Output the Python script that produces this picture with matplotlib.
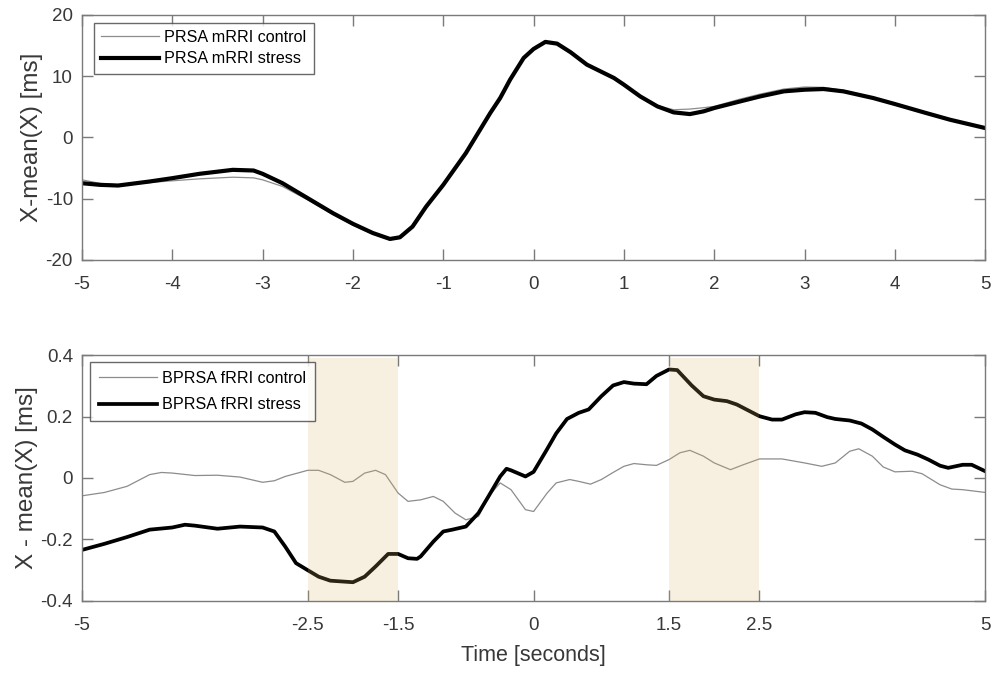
import matplotlib
matplotlib.use("Agg")
import matplotlib.pyplot as plt

plt.rcParams['font.family'] = ['Liberation Sans', 'DejaVu Sans']
plt.rcParams['axes.unicode_minus'] = False

# ---------------- Top panel data (PRSA mRRI) ----------------
top_x = [-5, -4.8, -4.6, -4.25, -4, -3.7, -3.33, -3.1, -3, -2.78, -2.5, -2.22, -2,
         -1.78, -1.59, -1.48, -1.34, -1.19, -1, -0.75, -0.48, -0.37, -0.26, -0.11,
         0, 0.13, 0.26, 0.41, 0.59, 0.74, 0.89, 1.0, 1.18, 1.37, 1.55, 1.73, 1.88,
         2.0, 2.29, 2.51, 2.77, 3.0, 3.21, 3.43, 3.76, 4.0, 4.32, 4.61, 5.0]
top_stress = [-7.47, -7.74, -7.85, -7.19, -6.65, -5.94, -5.29, -5.4, -5.94, -7.47,
              -9.92, -12.37, -14.1, -15.6, -16.57, -16.3, -14.55, -11.3, -7.74, -2.56,
              3.98, 6.43, 9.43, 12.97, 14.44, 15.59, 15.31, 13.9, 11.88, 10.79, 9.7,
              8.61, 6.70, 5.07, 4.09, 3.81, 4.25, 4.80, 5.89, 6.70, 7.52, 7.79, 7.90,
              7.52, 6.43, 5.45, 4.09, 2.89, 1.53]
top_control = [-6.92, -7.5, -7.74, -7.36, -7.08, -6.76, -6.49, -6.6, -6.92, -8.0,
               -10.2, -12.6, -14.3, -15.8, -16.7, -16.4, -14.6, -11.3, -7.74, -2.56,
               3.98, 6.43, 9.43, 12.97, 14.44, 15.59, 15.31, 13.9, 11.88, 10.79, 9.7,
               8.61, 6.75, 5.2, 4.52, 4.63, 4.85, 5.07, 6.27, 7.08, 7.9, 8.23, 8.17,
               7.68, 6.5, 5.45, 4.09, 2.89, 1.53]

# ---------------- Bottom panel data (BPRSA fRRI) ----------------
bot_ctrl_x = [-5.0, -4.75, -4.5, -4.25, -4.12, -4.0, -3.75, -3.5, -3.25, -3.0, -2.87,
              -2.75, -2.5, -2.38, -2.25, -2.09, -2.0, -1.87, -1.75, -1.64, -1.5, -1.39,
              -1.25, -1.11, -1.0, -0.87, -0.75, -0.61, -0.5, -0.37, -0.25, -0.09, 0.0,
              0.15, 0.25, 0.40, 0.5, 0.63, 0.75, 0.88, 1.0, 1.11, 1.25, 1.36, 1.5, 1.62,
              1.73, 1.88, 2.0, 2.18, 2.32, 2.5, 2.75, 3.0, 3.19, 3.34, 3.5, 3.6, 3.75,
              3.87, 4.0, 4.19, 4.3, 4.5, 4.63, 4.75, 5.0]
bot_ctrl_y = [-0.058, -0.047, -0.027, 0.011, 0.018, 0.016, 0.008, 0.009, 0.003, -0.014,
              -0.009, 0.005, 0.025, 0.025, 0.011, -0.014, -0.011, 0.016, 0.025, 0.011,
              -0.049, -0.076, -0.071, -0.060, -0.076, -0.114, -0.136, -0.125, -0.060,
              -0.016, -0.038, -0.103, -0.109, -0.049, -0.016, -0.005, -0.011, -0.020,
              -0.005, 0.018, 0.038, 0.047, 0.043, 0.041, 0.060, 0.082, 0.090, 0.071,
              0.049, 0.027, 0.043, 0.062, 0.062, 0.049, 0.038, 0.049, 0.087, 0.095,
              0.071, 0.036, 0.020, 0.022, 0.014, -0.022, -0.036, -0.038, -0.047]

bot_str_x = [-5, -4.75, -4.5, -4.25, -4.0, -3.86, -3.75, -3.5, -3.25, -3.0, -2.87, -2.75,
             -2.63, -2.5, -2.38, -2.25, -2.0, -1.87, -1.75, -1.61, -1.5, -1.39, -1.29,
             -1.25, -1.11, -1.0, -0.9, -0.75, -0.61, -0.5, -0.37, -0.3, -0.25, -0.09,
             0.0, 0.146, 0.25, 0.37, 0.5, 0.61, 0.75, 0.88, 1.0, 1.11, 1.25, 1.36, 1.5,
             1.59, 1.75, 1.88, 2.0, 2.14, 2.25, 2.5, 2.64, 2.75, 2.9, 3.0, 3.12, 3.25,
             3.34, 3.5, 3.63, 3.75, 3.87, 4.0, 4.11, 4.25, 4.37, 4.5, 4.59, 4.75, 4.85,
             5.0]
bot_str_y = [-0.234, -0.214, -0.192, -0.168, -0.161, -0.152, -0.155, -0.165, -0.158,
             -0.161, -0.174, -0.223, -0.277, -0.300, -0.321, -0.334, -0.339, -0.321,
             -0.288, -0.247, -0.247, -0.261, -0.263, -0.255, -0.207, -0.174, -0.168,
             -0.158, -0.114, -0.060, 0.005, 0.030, 0.025, 0.005, 0.020, 0.092, 0.145,
             0.192, 0.212, 0.223, 0.266, 0.301, 0.312, 0.307, 0.305, 0.332, 0.353,
             0.351, 0.301, 0.266, 0.255, 0.250, 0.239, 0.201, 0.190, 0.190, 0.207,
             0.214, 0.212, 0.198, 0.192, 0.187, 0.177, 0.158, 0.134, 0.109, 0.090,
             0.076, 0.060, 0.040, 0.033, 0.043, 0.043, 0.022]

shade_spans = [(-2.5, -1.5), (1.5, 2.5)]

top_xticks = [-5, -4, -3, -2, -1, 0, 1, 2, 3, 4, 5]
top_yticks = [-20, -10, 0, 10, 20]
bot_xticks = [-5, -2.5, -1.5, 0, 1.5, 2.5, 5]
bot_xticklabels = ['-5', '-2.5', '-1.5', '0', '1.5', '2.5', '5']
bot_yticks = [-0.4, -0.2, 0, 0.2, 0.4]
bot_yticklabels = ['-0.4', '-0.2', '0', '0.2', '0.4']

# ---------------- Figure ----------------
fig = plt.figure(figsize=(9.97, 6.77), dpi=100)
ax1 = fig.add_axes([0.0822, 0.616, 0.906, 0.362])
ax2 = fig.add_axes([0.0822, 0.1123, 0.906, 0.3633])

spine_col = '#7a7a7a'
label_col = '#383838'

def style(ax):
    for s in ax.spines.values():
        s.set_color(spine_col)
        s.set_linewidth(1.0)
    ax.tick_params(direction='in', length=8, width=1, color=spine_col,
                   top=True, right=True, labelsize=13.5, labelcolor=label_col)
    ax.tick_params(axis='x', pad=11.5)
    ax.tick_params(axis='y', pad=6.5)

# top
ax1.plot(top_x, top_control, color='#8c8c8c', lw=0.9, label='PRSA mRRI control')
ax1.plot(top_x, top_stress, color='black', lw=3.0, label='PRSA mRRI stress')
ax1.set_xlim(-5, 5)
ax1.set_ylim(-20, 20)
ax1.set_xticks(top_xticks)
ax1.set_yticks(top_yticks)
ax1.set_ylabel('X-mean(X) [ms]', fontsize=17.5, color=label_col, labelpad=2)
style(ax1)
leg1 = ax1.legend(loc='upper left', bbox_to_anchor=(0.0133, 0.968), borderaxespad=0,
                  fontsize=11.6, frameon=True, fancybox=False, handlelength=3.6,
                  handletextpad=0.3, labelspacing=0.4, borderpad=0.45)
leg1.get_frame().set_edgecolor('#444444')
leg1.get_frame().set_linewidth(1.0)

# bottom
ax2.plot(bot_ctrl_x, bot_ctrl_y, color='#8c8c8c', lw=0.9, label='BPRSA fRRI control')
ax2.plot(bot_str_x, bot_str_y, color='black', lw=2.7, label='BPRSA fRRI stress')
for a, b in shade_spans:
    ax2.fill_between([a, b], [-0.4, -0.4], [0.39, 0.39], color=(0.85, 0.7, 0.4),
                     alpha=0.2, lw=0, zorder=3)
ax2.set_xlim(-5, 5)
ax2.set_ylim(-0.4, 0.4)
ax2.set_xticks(bot_xticks)
ax2.set_xticklabels(bot_xticklabels)
ax2.set_yticks(bot_yticks)
ax2.set_yticklabels(bot_yticklabels)
ax2.set_ylabel('X - mean(X) [ms]', fontsize=17.5, color=label_col, labelpad=2)
ax2.set_xlabel('Time [seconds]', fontsize=15.5, color=label_col, labelpad=8)
style(ax2)
leg2 = ax2.legend(loc='upper left', bbox_to_anchor=(0.009, 0.9715), borderaxespad=0,
                  fontsize=11.6, frameon=True, fancybox=False, handlelength=3.6,
                  handletextpad=0.3, labelspacing=0.7, borderpad=0.55)
leg2.get_frame().set_edgecolor('#444444')
leg2.get_frame().set_linewidth(1.0)
leg2.set_zorder(5)

fig.savefig('out.png', dpi=100)
